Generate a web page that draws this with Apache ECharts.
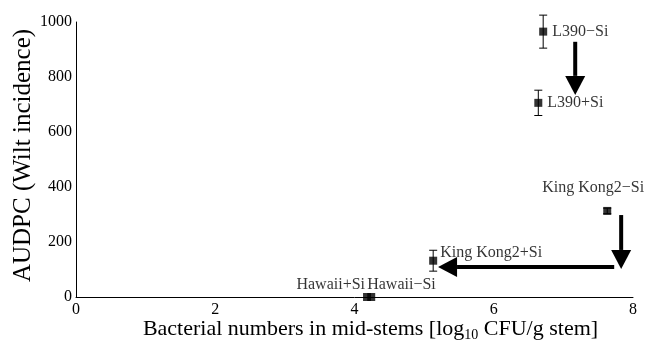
<!DOCTYPE html>
<html>
<head>
<meta charset="utf-8">
<script src="https://cdn.jsdelivr.net/npm/echarts@6/dist/echarts.min.js"></script>
<style>
  html, body { margin: 0; padding: 0; background: #fff; }
  #chart { width: 645px; height: 345px; }
</style>
</head>
<body>
<div id="chart"></div>
<script>
// Cultivar / treatment groups
const labels   = ['L390\u2212Si', 'L390+Si', 'King Kong2\u2212Si', 'King Kong2+Si', 'Hawaii+Si', 'Hawaii\u2212Si'];
// log10 CFU/g stem
const bacteria = [6.71, 6.64, 7.63, 5.13, 4.18, 4.24];
// AUDPC values
const audpc    = [965, 706, 313, 132, 0, 0];
// standard error of AUDPC
const audpcErr = [60, 46, 10, 38, 0, 0];

// Arrows showing the Si effect: [x1, y1, x2, y2]
const arrows = [
  [7.17, 928, 7.17, 735],
  [7.83, 298, 7.83, 102],
  [7.73, 109, 5.20, 109]
];

const xTicks = [0, 2, 4, 6, 8];
const yTicks = [0, 200, 400, 600, 800, 1000];

const serif = '"Liberation Serif", "DejaVu Serif", serif';

// label placement for each point
const labelCfg = [
  { position: 'right', distance: 5, offset: [0, 0] },
  { position: 'right', distance: 5, offset: [0, 0] },
  { position: 'top', distance: 11, offset: [-14, 0] },
  { position: 'right', distance: 3, offset: [0, -8] },
  { position: 'top', distance: 0, offset: [-2, 0], align: 'right' },
  { position: 'top', distance: 0, offset: [-4, 0], align: 'left' }
];

const points = labels.map((name, i) => ({
  name: name,
  value: [bacteria[i], audpc[i]],
  label: Object.assign({ show: true, formatter: name }, labelCfg[i])
}));

const errData = labels.map((n, i) => [bacteria[i], audpc[i] - audpcErr[i], audpc[i] + audpcErr[i]])
  .filter(d => d[2] - d[1] > 0);

const chart = echarts.init(document.getElementById('chart'), null, { renderer: 'canvas' });

chart.setOption({
  animation: false,
  backgroundColor: '#fff',
  grid: { left: 76, right: 12, top: 22, bottom: 48, containLabel: false, outerBoundsMode: 'none' },
  xAxis: {
    type: 'value', min: 0, max: 8, interval: 2,
    axisLine: { show: true, lineStyle: { color: '#000', width: 1 } },
    axisTick: { show: false },
    splitLine: { show: false },
    axisLabel: {
      color: '#000', fontFamily: serif, fontSize: 16, margin: 5,
      customValues: xTicks
    },
    name: '{a|Bacterial numbers in mid-stems [log}{b|10}{a| CFU/g stem]}',
    nameLocation: 'middle', nameGap: 19, nameMoveOverlap: false,
    nameTextStyle: {
      padding: [0, 0, 0, 32],
      rich: {
        a: { fontFamily: serif, fontSize: 22, color: '#000' },
        b: { fontFamily: serif, fontSize: 14, color: '#000', verticalAlign: 'bottom', padding: [12, 0, 0, 0] }
      }
    }
  },
  yAxis: {
    type: 'value', min: 0, max: 1000, interval: 200,
    axisLine: { show: true, lineStyle: { color: '#000', width: 1 } },
    axisTick: { show: false },
    splitLine: { show: false },
    axisLabel: {
      color: '#000', fontFamily: serif, fontSize: 16, margin: 4,
      customValues: yTicks,
      formatter: v => String(v)
    },
    name: 'AUDPC (Wilt incidence)',
    nameLocation: 'middle', nameGap: 40, nameRotate: 90, nameMoveOverlap: false,
    nameTextStyle: { fontFamily: serif, fontSize: 25, color: '#000', padding: [0, 0, 0, 8] }
  },
  series: [
    {
      type: 'custom',
      name: 'error',
      z: 2,
      data: errData,
      renderItem: function (params, api) {
        const x = api.value(0);
        const lo = api.coord([x, api.value(1)]);
        const hi = api.coord([x, api.value(2)]);
        const cap = 4;
        const style = { stroke: '#000', lineWidth: 1 };
        return {
          type: 'group',
          children: [
            { type: 'line', shape: { x1: lo[0], y1: lo[1], x2: hi[0], y2: hi[1] }, style: style },
            { type: 'line', shape: { x1: lo[0] - cap, y1: lo[1], x2: lo[0] + cap, y2: lo[1] }, style: style },
            { type: 'line', shape: { x1: hi[0] - cap, y1: hi[1], x2: hi[0] + cap, y2: hi[1] }, style: style }
          ]
        };
      }
    },
    {
      type: 'scatter',
      name: 'points',
      z: 3,
      symbol: 'rect',
      symbolSize: 8,
      itemStyle: { color: '#000' },
      label: { color: '#000', fontFamily: serif, fontSize: 16 },
      data: points
    },
    {
      type: 'custom',
      name: 'arrows',
      z: 4,
      data: arrows,
      renderItem: function (params, api) {
        const p1 = api.coord([api.value(0), api.value(1)]);
        const p2 = api.coord([api.value(2), api.value(3)]);
        const dx = p2[0] - p1[0], dy = p2[1] - p1[1];
        const len = Math.sqrt(dx * dx + dy * dy);
        const ux = dx / len, uy = dy / len;
        const headLen = 19, headHalf = 10;
        const bx = p2[0] - ux * headLen, by = p2[1] - uy * headLen;
        const nx = -uy, ny = ux;
        return {
          type: 'group',
          children: [
            { type: 'line', shape: { x1: p1[0], y1: p1[1], x2: bx, y2: by },
              style: { stroke: '#000', lineWidth: 4 } },
            { type: 'polygon',
              shape: { points: [[p2[0], p2[1]], [bx + nx * headHalf, by + ny * headHalf], [bx - nx * headHalf, by - ny * headHalf]] },
              style: { fill: '#000' } }
          ]
        };
      }
    }
  ]
});
</script>
</body>
</html>
